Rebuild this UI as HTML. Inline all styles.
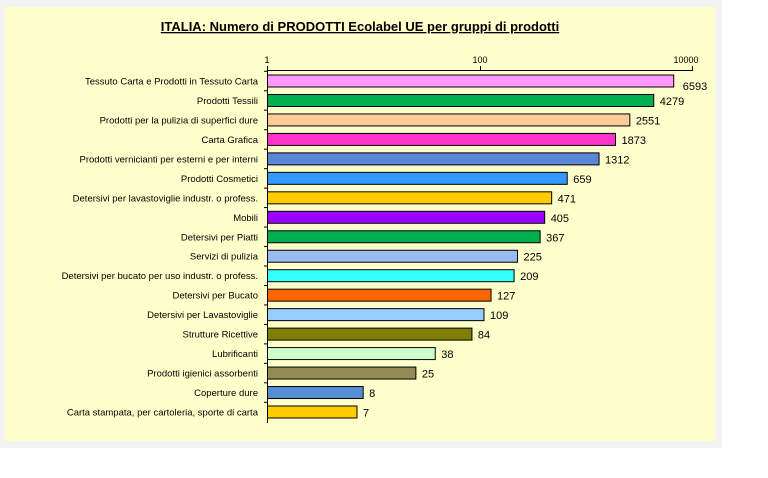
<!DOCTYPE html>
<html><head><meta charset="utf-8"><style>body{margin:0;background:#fff}svg{display:block}</style></head><body>
<svg width="768" height="478" xmlns="http://www.w3.org/2000/svg" font-family="Liberation Sans, sans-serif">
<rect x="0" y="0" width="722" height="448" fill="#f3f3f3"/>
<rect x="5" y="7" width="710" height="434" fill="#ffffcc"/>
<text x="360" y="31" font-size="13" font-weight="bold" text-anchor="middle" text-decoration="underline">ITALIA: Numero di PRODOTTI  Ecolabel UE per gruppi di prodotti</text>
<line x1="267" y1="70.5" x2="693" y2="70.5" stroke="#000"/>
<line x1="267.5" y1="66" x2="267.5" y2="423" stroke="#000"/>
<line x1="480.5" y1="66" x2="480.5" y2="71" stroke="#000"/>
<line x1="692.5" y1="66" x2="692.5" y2="71" stroke="#000"/>
<g font-size="9" text-anchor="middle"><text x="267" y="63">1</text><text x="480" y="63">100</text><text x="686" y="63">10000</text></g>
<g id="rows" font-size="9.5"></g>
</svg>
<script>
var d=[["Tessuto Carta e Prodotti in Tessuto Carta",6593,"#ff99ff"],["Prodotti Tessili",4279,"#00b050"],["Prodotti per la pulizia di superfici dure",2551,"#ffcc99"],["Carta Grafica",1873,"#ff33cc"],["Prodotti vernicianti per esterni e per interni",1312,"#5b87d6"],["Prodotti Cosmetici",659,"#3399ff"],["Detersivi per lavastoviglie industr. o profess.",471,"#ffcc00"],["Mobili",405,"#9900ff"],["Detersivi per Piatti",367,"#00b050"],["Servizi di pulizia",225,"#99bbee"],["Detersivi per bucato per uso industr. o profess.",209,"#33ffff"],["Detersivi per Bucato",127,"#ff6600"],["Detersivi per Lavastoviglie",109,"#99ccff"],["Strutture Ricettive",84,"#808000"],["Lubrificanti",38,"#ccffcc"],["Prodotti igienici assorbenti",25,"#948a54"],["Coperture dure",8,"#558ed5"],["Carta stampata, per cartoleria, sporte di carta",7,"#ffcc00"]];
var g=document.getElementById("rows"),s="";
d.forEach(function(r,i){var y=81+i*19.47,x2=267+Math.log10(r[1])*106.5;
s+='<line x1="264" x2="268" y1="'+(y-9.7)+'" y2="'+(y-9.7)+'" stroke="#000"/>';
s+='<rect x="267.5" y="'+(y-6)+'" width="'+(x2-267.5)+'" height="12" fill="'+r[2]+'" stroke="#000"/>';
s+='<text x="258" y="'+(y+3.5)+'" text-anchor="end">'+r[0]+'</text>';
s+='<text x="'+(x2+(i==0?9:6))+'" y="'+(y+(i==0?9:4.5))+'" font-size="11">'+r[1]+'</text>';});
g.innerHTML=s;
</script>
</body></html>
